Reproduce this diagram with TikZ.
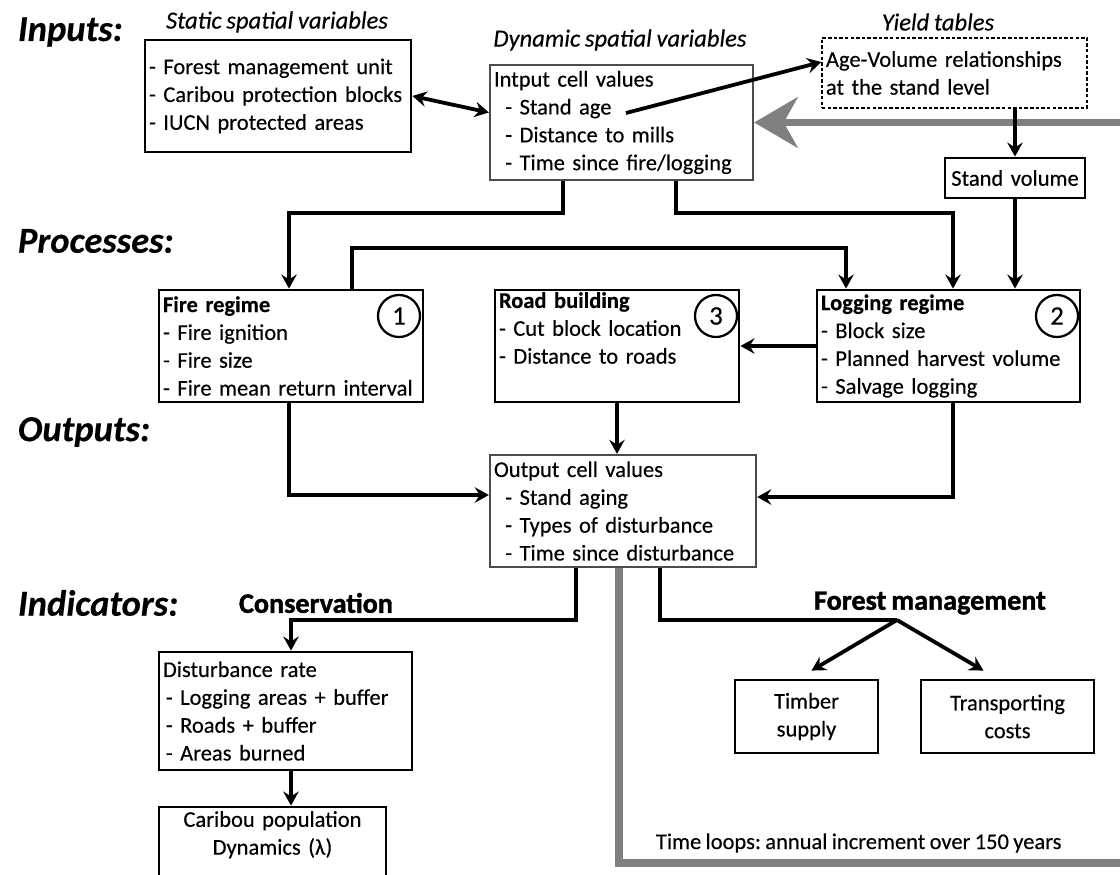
\documentclass[tikz,border=0pt]{standalone}
\usepackage{fontspec}
\setmainfont{Carlito}[WordSpace=0.85,FakeBold=0.3]
\newfontfamily\heavyfont[FakeBold=1.5,WordSpace=0.8]{Carlito}
\usetikzlibrary{arrows.meta,calc}

\tikzset{
  box/.style={draw, line width=2pt, align=left, inner xsep=0.1cm, inner ysep=0pt},
  cellbox/.style={box, draw=black!70, line width=1.6pt},
  yieldbox/.style={box, line width=0.9pt, dash pattern=on 2.5pt off 1.5pt},
  numcircle/.style={draw, circle, fill=white, line width=1.6pt, minimum size=1.05cm, inner sep=0pt, font=\fontsize{19}{19}\selectfont},
  level/.style={anchor=west, font=\fontsize{26}{26}\selectfont\bfseries\itshape},
  caption/.style={font=\fontsize{17.5}{17.5}\selectfont\itshape},
  group/.style={font=\fontsize{20}{20}\selectfont\heavyfont\bfseries},
  arr/.style={line width=2.7pt, ->},
  link/.style={line width=2.7pt},
  timeloop/.style={line width=5pt, draw=black!50, -{Stealth[length=31pt,width=36pt,inset=10pt]}},
}

\begin{document}
\frenchspacing
\begin{tikzpicture}[x=0.025cm, y=-0.025cm,
  >={Stealth[length=10pt,width=11pt,inset=3.5pt]},
  every node/.style={font=\fontsize{16}{19.8}\selectfont\frenchspacing}]
\useasboundingbox (0,0) rectangle (1120,875);
\fill[white] (0,0) rectangle (1120,875);
\clip (0,0) rectangle (1120,875);

% row labels
\node[level] (linp) at (13,32) {Inputs:};
\node[level] (lpro) at (13,241) {Processes:};
\node[level] (lout) at (13,432) {Outputs:};
\node[level] (lind) at (13,603) {Indicators:};

% inputs
\node[caption] (cst) at (277,22) {Static spatial variables};
\node[caption] (cdy) at (620,40) {Dynamic spatial variables};
\node[caption] (cyt) at (938,22) {Yield tables};
\node[box, text width=6.45cm, minimum height=2.8cm] (st) at (278,96)
  {- Forest management unit\\- Caribou protection blocks\\- IUCN protected areas};
\node[cellbox, text width=6.375cm, minimum height=2.875cm] (in) at (621.5,122.5)
  {Intput cell values\\\hspace*{8pt}- Stand age\\\hspace*{8pt}- Distance to mills\\\hspace*{8pt}- Time since fire/logging};
\node[yieldbox, text width=6.425cm, minimum height=1.75cm] (yt) at (954.5,73)
  {Age-Volume relationships\\at the stand level};
\node[box, align=center, text width=3.3cm, minimum height=1cm] (sv) at (1015,178) {Stand volume};

% processes
\node[box, text width=6.4cm, minimum height=2.8cm] (fi) at (291,346)
  {\textbf{Fire regime}\\- Fire ignition\\- Fire size\\- Fire mean return interval};
\node[box, text width=5.9cm, minimum height=2.8cm] (rb) at (617,346)
  {\textbf{Road building}\\- Cut block location\\- Distance to roads\\\strut};
\node[box, text width=6.375cm, minimum height=2.8cm] (lg) at (948.5,346)
  {\textbf{Logging regime}\\- Block size\\- Planned harvest volume\\- Salvage logging};
\node[numcircle] (n1) at (399,316) {1};
\node[numcircle] (n3) at (716,316) {3};
\node[numcircle] (n2) at (1057,316) {2};

% outputs
\node[cellbox, text width=6.45cm, minimum height=2.8cm] (out) at (623,511)
  {Output cell values\\\hspace*{8pt}- Stand aging\\\hspace*{8pt}- Types of disturbance\\\hspace*{8pt}- Time since disturbance};

% indicators
\node[group] (gcons) at (316,603) {Conservation};
\node[group] (gfor) at (930,603) {Forest management};
\node[box, text width=6.125cm, minimum height=2.95cm] (dr) at (285.5,711)
  {Disturbance rate\\\hspace*{2pt}- Logging areas + buffer\\\hspace*{2pt}- Roads + buffer\\\hspace*{2pt}- Areas burned};
\node[box, align=center, text width=5.475cm, minimum height=2.2cm] (cp) at (272.5,851)
  {Caribou population\\Dynamics (λ)\\\strut};
\node[box, align=center, text width=3.375cm, minimum height=1.825cm] (ts) at (806.5,716.5)
  {Timber\\supply};
\node[box, align=center, text width=4.125cm, minimum height=1.825cm] (tc) at (1007.5,716.5)
  {Transporting\\costs};
\node[anchor=west] (tl) at (651,843) {Time loops: annual increment over 150 years};

% bends
\coordinate (sa) at (626,113);
\coordinate (kin1) at (563,213);
\coordinate (kin2) at (676,213);
\coordinate (kfi) at (352,248);
\coordinate (kout1) at (576,620);
\coordinate (kout2) at (660,620);
\coordinate (fm) at (897,620);
\coordinate (kloop) at (619,863);
\coordinate (kright) at (1140,863);
\coordinate (xfi) at (289,0);
\coordinate (xdr) at (291,0);

% time loop
\draw[timeloop] (out.south -| kloop) -- (kloop) -- (kright) |- (in.east);

% input links
\draw[line width=2.7pt, <->] (st.east) -- ($(in.west)+(0,-10)$);
\draw[arr] (sa) -- ($(yt.west)+(0,-11)$);
\draw[arr] (yt.south -| sv.north) -- (sv.north);

% process links
\draw[arr] (in.south -| kin1) -- (kin1) -| (fi.north -| xfi);
\draw[arr] (in.south -| kin2) -- (kin2) -| ($(lg.north)+(4.5,0)$);
\draw[arr] (fi.north -| kfi) -- (kfi) -| ($(lg.north)+(-102.5,0)$);
\draw[arr] (sv.south) -- (lg.north -| sv.south);
\draw[arr] (lg.west) -- (rb.east);

% output links
\draw[arr] (rb.south) -- (out.north -| rb.south);
\draw[arr] (fi.south -| xfi) |- ($(out.west)+(0,-16)$);
\draw[arr] ($(lg.south)+(4.5,0)$) |- ($(out.east)+(0,-14)$);

% indicator links
\draw[arr] (out.south -| kout1) -- (kout1) -| (dr.north -| xdr);
\draw[link] (out.south -| kout2) -- (kout2) -- (fm);
\draw[arr] (fm) -- ($(ts.north)+(5,-8)$);
\draw[arr] (fm) -- ($(tc.north)+(-24,-8)$);
\draw[arr] (dr.south -| xdr) -- (cp.north -| xdr);
\end{tikzpicture}
\end{document}
